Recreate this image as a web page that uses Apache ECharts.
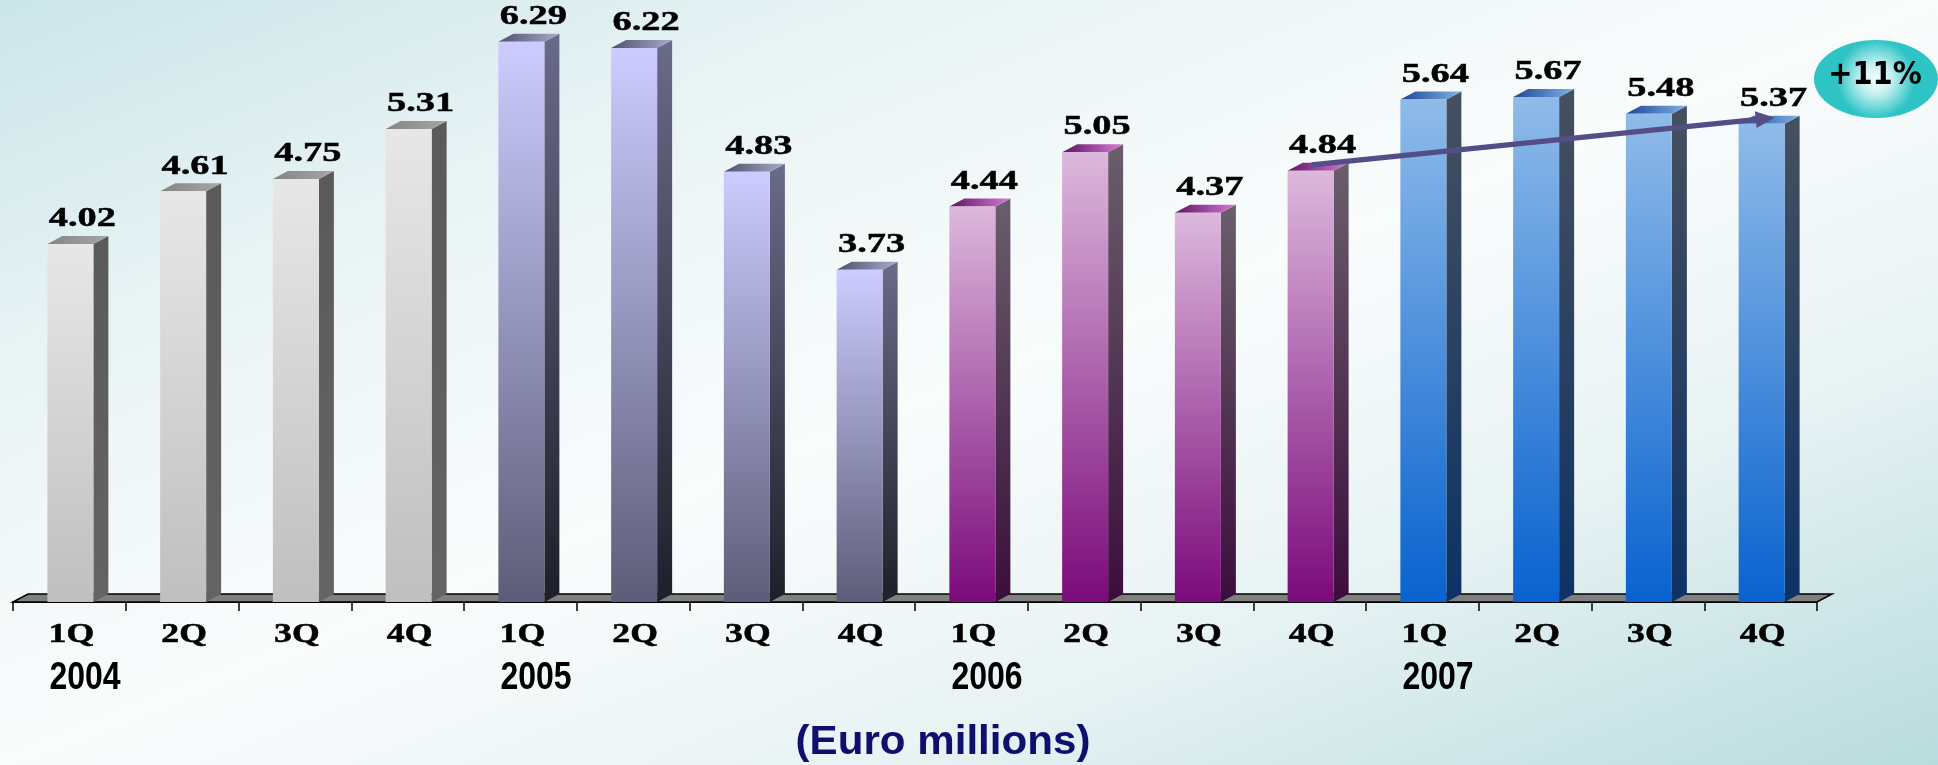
<!DOCTYPE html>
<html>
<head>
<meta charset="utf-8">
<title>Quarterly revenue 2004-2007</title>
<script src="https://cdn.jsdelivr.net/npm/echarts@6/dist/echarts.min.js"></script>
<style>
  html, body { margin: 0; padding: 0; }
  #chart {
    width: 1938px; height: 765px;
    background: linear-gradient(to bottom right, #cbe5e9 0%, #eaf4f5 25%, #fafcfc 50%, #e9f3f4 72%, #b8dcde 100%);
  }
</style>
</head>
<body>
<div id="chart"></div>
<script>
// Quarterly figures, Euro millions
const quarters = ['1Q', '2Q', '3Q', '4Q', '1Q', '2Q', '3Q', '4Q', '1Q', '2Q', '3Q', '4Q', '1Q', '2Q', '3Q', '4Q'];
const years = ['2004', '2005', '2006', '2007'];
const revenue = [4.02, 4.61, 4.75, 5.31, 6.29, 6.22, 4.83, 3.73, 4.44, 5.05, 4.37, 4.84, 5.64, 5.67, 5.48, 5.37];
const trendStart = 11;   // 4Q 2006
const trendEnd = 15;     // 4Q 2007
const unitLabel = '(Euro millions)';

const categories = quarters.map((q, i) => q + ' ' + years[Math.floor(i / 4)]);

// one colour set per year: front face, side face, top face
const palettes = [
  { front: ['#e7e7e7', '#bfbfbf'], side: ['#5a5a5a', '#646464'], top: ['#848484', '#a6a6a6'] },
  { front: ['#ccccff', '#5d5c78'], side: ['#6a6a8a', '#1f1f2a'], top: ['#4f4f6e', '#a9a9c8'] },
  { front: ['#dcb8dc', '#7b0a7b'], side: ['#6a5e6c', '#3c0d3c'], top: ['#5e1560', '#d77ad7'] },
  { front: ['#8fbbe9', '#0862cf'], side: ['#46505f', '#0d3265'], top: ['#1c4792', '#7fb2e6'] }
];

const FRONT_W = 46, DX = 15, DY = 8;
const serif = '"Liberation Serif", "Times New Roman", serif';
const sans = '"Liberation Sans", Arial, sans-serif';

function grad(c, horizontal) {
  return new echarts.graphic.LinearGradient(0, 0, horizontal ? 1 : 0, horizontal ? 0 : 1, [
    { offset: 0, color: c[0] }, { offset: 1, color: c[1] }
  ]);
}

function serifText(text, x, y, sx) {
  return { type: 'text', x, y, scaleX: sx, scaleY: 1.05,
    style: { text, font: 'bold 27px ' + serif, fill: '#000', stroke: '#000', lineWidth: 0.5,
      align: 'center', verticalAlign: 'middle' } };
}

function renderFloor(params, api) {
  const band = api.size([1, 0])[0];
  const l = api.coord([0, 0]);
  const r = api.coord([categories.length - 1, 0]);
  const xl = l[0] - band / 2, xr = r[0] + band / 2, y = l[1];
  return {
    type: 'polygon',
    shape: { points: [[xl, y], [xl + DX, y - DY], [xr + DX, y - DY], [xr, y]] },
    style: { fill: '#808080', stroke: '#000', lineWidth: 1.6 }
  };
}

function renderBar(params, api) {
  const i = api.value(0), v = api.value(1);
  const top = api.coord([i, v]);
  const base = api.coord([i, 0]);
  const x0 = top[0] - FRONT_W / 2 + 1, x1 = x0 + FRONT_W;
  const yT = top[1], yB = base[1];
  const p = palettes[Math.floor(i / 4)];
  const children = [
    { type: 'polygon', shape: { points: [[x1, yT], [x1 + DX, yT - DY], [x1 + DX, yB - DY], [x1, yB]] },
      style: { fill: grad(p.side) } },
    { type: 'polygon', shape: { points: [[x0, yT], [x0 + DX, yT - DY], [x1 + DX, yT - DY], [x1, yT]] },
      style: { fill: grad(p.top, true) } },
    { type: 'rect', shape: { x: x0, y: yT, width: FRONT_W, height: yB - yT },
      style: { fill: grad(p.front) } },
    serifText(v.toFixed(2), top[0] + 13, yT - 25, 1.42),
    serifText(quarters[i], top[0] + 2, yB + 33, 1.32)
  ];
  if (i % 4 === 0) {
    children.push({ type: 'text', x: x0 + 2, y: yB + 76, scaleX: 1.0, scaleY: 1.2,
      style: { text: years[i / 4], font: 'bold 32px ' + sans, fill: '#000', align: 'left', verticalAlign: 'middle' } });
  }
  return { type: 'group', children };
}

function renderTrend(params, api) {
  const a = api.coord([api.value(0), api.value(1)]);
  const b = api.coord([api.value(2), api.value(3)]);
  const sx = a[0] + 2, sy = a[1] - 6, ex = b[0] + 14, ey = b[1] - 6;
  const ang = Math.atan2(ey - sy, ex - sx);
  const L = 19, W = 8.5;
  const cs = Math.cos(ang), sn = Math.sin(ang);
  const bx = ex - L * cs, by = ey - L * sn;
  const nx = -sn, ny = cs;
  const color = '#554e86';
  return {
    type: 'group',
    children: [
      { type: 'line', shape: { x1: sx, y1: sy, x2: bx + 2 * cs, y2: by + 2 * sn },
        style: { stroke: color, lineWidth: 5.5 } },
      { type: 'polygon', shape: { points: [[ex, ey], [bx + nx * W, by + ny * W], [bx - nx * W, by - ny * W]] },
        style: { fill: color } }
    ]
  };
}

const growth = Math.round((revenue[trendEnd] / revenue[trendStart] - 1) * 100);

const chart = echarts.init(document.getElementById('chart'), null, { renderer: 'canvas' });
chart.setOption({
  backgroundColor: 'transparent',
  animation: false,
  grid: { left: 13, right: 121, top: 23, bottom: 163, containLabel: false },
  xAxis: {
    type: 'category',
    data: categories,
    boundaryGap: true,
    axisLine: { show: true, lineStyle: { color: '#000', width: 2 } },
    axisTick: { show: true, length: 9, lineStyle: { color: '#000', width: 1.5 } },
    axisLabel: { show: false },
    splitLine: { show: false }
  },
  yAxis: {
    type: 'value', min: 0, max: 6.5,
    show: false, splitLine: { show: false }
  },
  series: [
    { type: 'custom', name: 'floor', renderItem: renderFloor, data: [[0, 0]], clip: false, z: 1, silent: true },
    { type: 'custom', name: 'revenue', renderItem: renderBar, clip: false, z: 3,
      data: revenue.map((v, i) => [i, v]) },
    { type: 'custom', name: 'trend', renderItem: renderTrend, clip: false, z: 5,
      encode: { x: [0, 2], y: [1, 3] },
      data: [[trendStart, revenue[trendStart], trendEnd, revenue[trendEnd]]] }
  ],
  graphic: [
    { type: 'ellipse', shape: { cx: 1876, cy: 79, rx: 62, ry: 39 }, z: 10,
      style: { fill: new echarts.graphic.RadialGradient(0.5, 0.5, 0.5, [
        { offset: 0, color: '#f6fdfd' }, { offset: 0.4, color: '#c6f0f0' }, { offset: 1, color: '#2ec4c6' }
      ]) } },
    { type: 'text', x: 1875, y: 76, z: 11, scaleY: 1.1,
      style: { text: '+' + growth + '%', font: 'bold 29px "DejaVu Sans", sans-serif', fill: '#000',
        align: 'center', verticalAlign: 'middle' } },
    { type: 'text', x: 943, y: 743, scaleX: 1.17, scaleY: 1.15, z: 10,
      style: { text: unitLabel, font: 'bold 36px ' + sans, fill: '#0f0f6e',
        align: 'center', verticalAlign: 'middle' } }
  ]
});
</script>
</body>
</html>
